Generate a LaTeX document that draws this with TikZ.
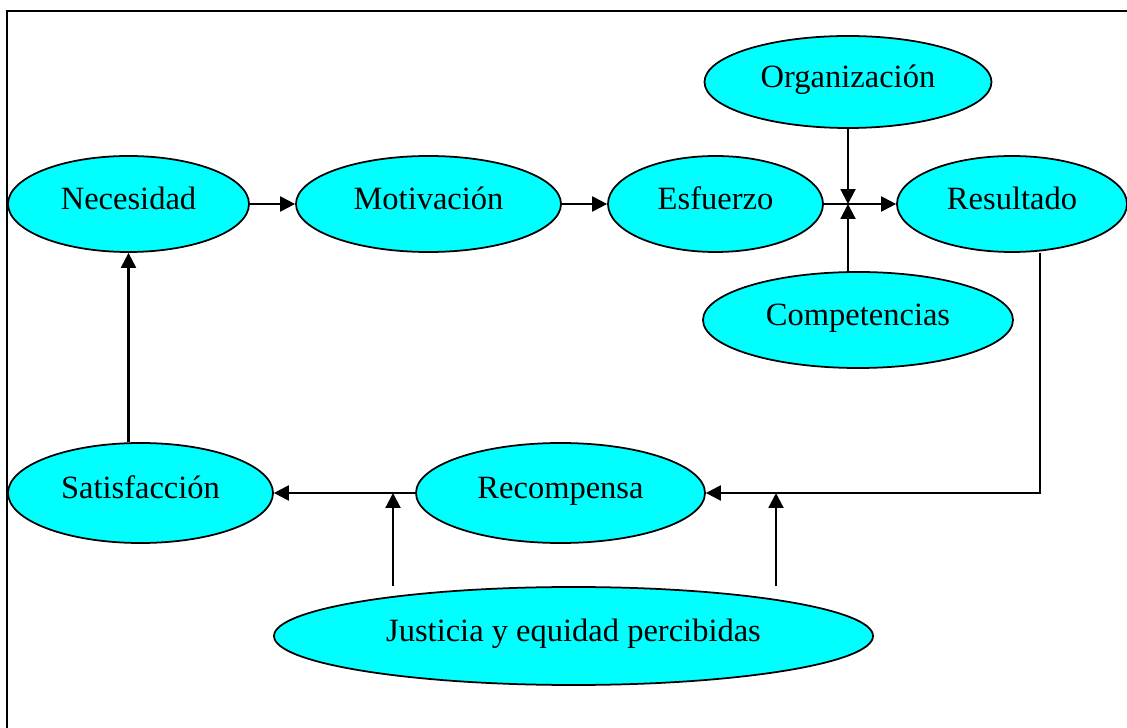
\documentclass[tikz,border=0pt]{standalone}
\usepackage{fontspec}
\setmainfont{Liberation Serif}
\usetikzlibrary{arrows.meta,positioning,shapes.geometric}
\definecolor{aqua}{RGB}{0,255,255}
\tikzset{
  font=\fontsize{18.5}{22}\selectfont,
  oval/.style={
    ellipse,
    draw,
    fill=aqua,
    line width=1pt,
    inner sep=0pt,
    text height=12pt,
    text depth=6pt,
    minimum height=19.2mm
  },
  arrow/.style={-{Triangle[length=8.5pt,width=8.5pt]}, line width=1.2pt},
  frame/.style={line width=1.2pt}
}
\begin{document}
\begin{tikzpicture}
\useasboundingbox (0,0) rectangle (22.54,-14.56);

% Frame
\coordinate (fbl) at (0.14,-14.56);
\coordinate (ftl) at (0.14,-0.22);
\coordinate (ftr) at (22.54,-0.22);
\draw[frame] (fbl) -- (ftl) -- (ftr);

% Top row
\node[oval, minimum width=48.2mm] (nec) at (2.57,-4.08) {Necesidad};
\node[oval, minimum width=53mm] (mot) at (8.57,-4.08) {Motivación};
\node[oval, minimum width=43mm] (esf) at (14.31,-4.08) {Esfuerzo};
\node[oval, minimum width=46mm] (res) at (20.24,-4.08) {Resultado};
\node[oval, minimum width=57.4mm, minimum height=18.4mm] (org) at (16.96,-1.64) {Organización};
\node[oval, minimum width=62mm] (comp) at (17.16,-6.40) {Competencias};

% Bottom row
\node[oval, minimum width=53mm, minimum height=20mm] (sat) at (2.81,-9.86) {Satisfacción};
\node[oval, minimum width=57.8mm, minimum height=20mm] (rec) at (11.21,-9.86) {Recompensa};
\node[oval, minimum width=119.8mm, minimum height=19.6mm] (just) at (11.47,-12.72) {Justicia y equidad percibidas};

% Junctions
\coordinate (jtop) at (16.96,-4.08);
\coordinate (jl) at (7.86,-9.86);
\coordinate (jr) at (15.52,-9.86);
\coordinate (rdown) at (20.80,-9.86);

\draw[arrow] (nec) -- (mot);
\draw[arrow] (mot) -- (esf);
\draw[arrow] (esf) -- (res);
\draw[arrow] (org.south) -- (jtop);
\draw[arrow] (comp.north -| jtop) -- (jtop);

\draw[arrow] (sat.north -| nec.south) -- (nec.south);
\draw[arrow] (res.south -| rdown) -- (rdown) -- (rec.east);
\draw[arrow] (rec.west) -- (sat.east);
\draw[arrow] (just.north -| jl) -- (jl);
\draw[arrow] (just.north -| jr) -- (jr);

\end{tikzpicture}
\end{document}
